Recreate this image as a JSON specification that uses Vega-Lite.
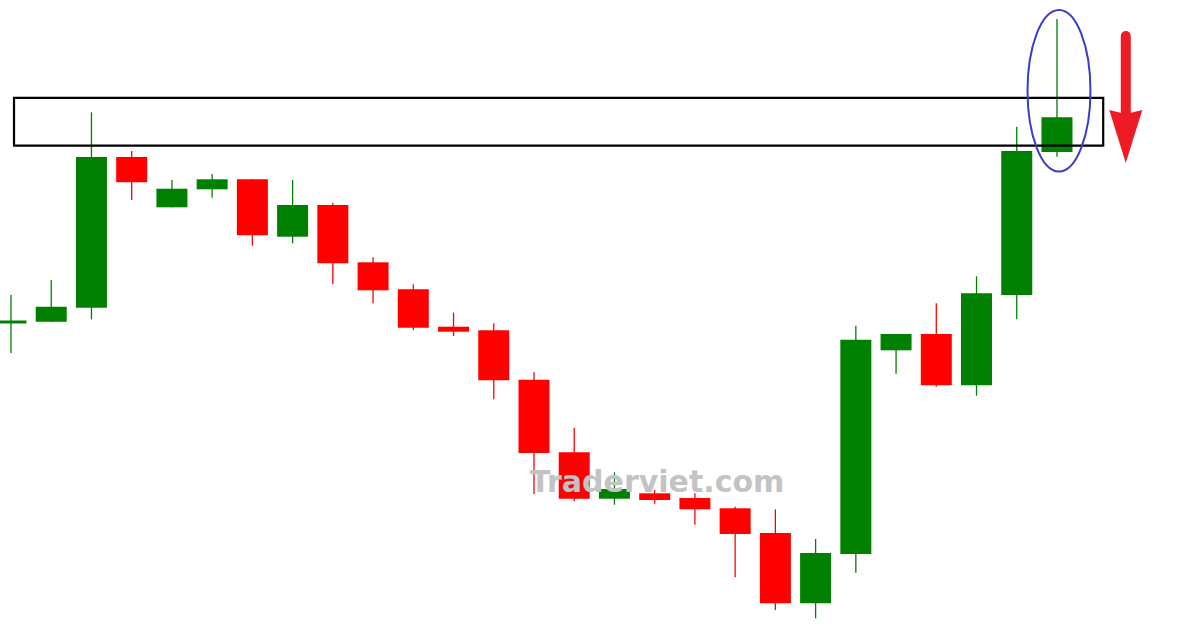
{
  "$schema": "https://vega.github.io/schema/vega-lite/v6.json",
  "width": 1200,
  "height": 628,
  "autosize": {"type": "none"},
  "padding": 0,
  "background": "white",
  "config": {"view": {"stroke": null}, "scale": {"continuousPadding": 0}},
  "datasets": {
    "candles": [
      {"i": 0, "open": 304.5, "close": 307.5, "high": 333, "low": 275},
      {"i": 1, "open": 306.3, "close": 321.3, "high": 348, "low": 306},
      {"i": 2, "open": 320.3, "close": 471, "high": 515.7, "low": 308.7},
      {"i": 3, "open": 471, "close": 445.7, "high": 477, "low": 428},
      {"i": 4, "open": 420.7, "close": 439.3, "high": 448, "low": 420.7},
      {"i": 5, "open": 438.7, "close": 448.7, "high": 454, "low": 430.3},
      {"i": 6, "open": 448.7, "close": 392.7, "high": 448.7, "low": 382.3},
      {"i": 7, "open": 391.3, "close": 423, "high": 448, "low": 384.7},
      {"i": 8, "open": 423, "close": 364.7, "high": 425.3, "low": 343.7},
      {"i": 9, "open": 365.7, "close": 337.7, "high": 370.7, "low": 324.7},
      {"i": 10, "open": 338.7, "close": 300.3, "high": 343.7, "low": 297.7},
      {"i": 11, "open": 301.3, "close": 296.3, "high": 315.3, "low": 292},
      {"i": 12, "open": 297.7, "close": 247.7, "high": 304.7, "low": 228.7},
      {"i": 13, "open": 248.3, "close": 175, "high": 255.7, "low": 134},
      {"i": 14, "open": 175.7, "close": 129.3, "high": 200.3, "low": 126.7},
      {"i": 15, "open": 129.3, "close": 139, "high": 155.7, "low": 123.3},
      {"i": 16, "open": 134.7, "close": 128, "high": 138, "low": 124.3},
      {"i": 17, "open": 130, "close": 118.7, "high": 134.7, "low": 103.3},
      {"i": 18, "open": 119.7, "close": 94, "high": 121.3, "low": 50.7},
      {"i": 19, "open": 95, "close": 24.7, "high": 118.7, "low": 18},
      {"i": 20, "open": 24.7, "close": 75, "high": 89, "low": 9.7},
      {"i": 21, "open": 74, "close": 288.3, "high": 302.3, "low": 55.3},
      {"i": 22, "open": 277.7, "close": 294, "high": 294, "low": 254.3},
      {"i": 23, "open": 294, "close": 242.7, "high": 324.7, "low": 241.3},
      {"i": 24, "open": 242.7, "close": 334.7, "high": 351.7, "low": 232.3},
      {"i": 25, "open": 333, "close": 477, "high": 501.3, "low": 308.7},
      {"i": 26, "open": 476, "close": 510.7, "high": 609, "low": 471.3}
    ],
    "zone": [{"x1": 0.075, "x2": 27.149, "p1": 482.3, "p2": 530.2}],
    "ellipse": [{"i": 26.05, "p": 537.3}],
    "shaft": [{"i": 27.71, "p1": 513, "p2": 592}],
    "head": [{"i": 27.71, "p": 491.5}],
    "watermark": [{"i": 16.06, "p": 136, "label": "Traderviet.com"}]
  },
  "layer": [
    {
      "data": {"name": "candles"},
      "mark": {"type": "rule", "strokeWidth": 1.3},
      "encoding": {
        "x": {"field": "i", "type": "quantitative", "scale": {"domain": [-0.2734, 29.555], "nice": false, "zero": false, "padding": 0}, "axis": null},
        "y": {"field": "low", "type": "quantitative", "scale": {"domain": [0, 628], "nice": false, "zero": false}, "axis": null},
        "y2": {"field": "high"},
        "color": {"condition": {"test": "datum.close >= datum.open", "value": "#008000"}, "value": "#ff0000"}
      }
    },
    {
      "data": {"name": "candles"},
      "mark": {"type": "bar", "size": 31},
      "encoding": {
        "x": {"field": "i", "type": "quantitative", "scale": {"domain": [-0.2734, 29.555], "nice": false, "zero": false, "padding": 0}, "axis": null},
        "y": {"field": "open", "type": "quantitative", "scale": {"domain": [0, 628], "nice": false, "zero": false}, "axis": null},
        "y2": {"field": "close"},
        "color": {"condition": {"test": "datum.close >= datum.open", "value": "#008000"}, "value": "#ff0000"}
      }
    },
    {
      "data": {"name": "zone"},
      "mark": {"type": "rect", "fill": null, "fillOpacity": 0, "stroke": "#000000", "strokeWidth": 2.2},
      "encoding": {
        "x": {"field": "x1", "type": "quantitative", "scale": {"domain": [-0.2734, 29.555], "nice": false, "zero": false, "padding": 0}, "axis": null},
        "x2": {"field": "x2"},
        "y": {"field": "p1", "type": "quantitative", "scale": {"domain": [0, 628], "nice": false, "zero": false}, "axis": null},
        "y2": {"field": "p2"}
      }
    },
    {
      "data": {"name": "ellipse"},
      "mark": {"type": "point", "filled": false, "stroke": "#3c3cc8", "strokeWidth": 2, "opacity": 1, "size": 26050,
        "shape": "M0.39,0 C0.39,0.5523 0.2154,1 0,1 C-0.2154,1 -0.39,0.5523 -0.39,0 C-0.39,-0.5523 -0.2154,-1 0,-1 C0.2154,-1 0.39,-0.5523 0.39,0 Z"},
      "encoding": {
        "x": {"field": "i", "type": "quantitative", "scale": {"domain": [-0.2734, 29.555], "nice": false, "zero": false, "padding": 0}, "axis": null},
        "y": {"field": "p", "type": "quantitative", "scale": {"domain": [0, 628], "nice": false, "zero": false}, "axis": null}
      }
    },
    {
      "data": {"name": "shaft"},
      "mark": {"type": "rule", "color": "#ed1c24", "strokeWidth": 10, "strokeCap": "round"},
      "encoding": {
        "x": {"field": "i", "type": "quantitative", "scale": {"domain": [-0.2734, 29.555], "nice": false, "zero": false, "padding": 0}, "axis": null},
        "y": {"field": "p1", "type": "quantitative", "scale": {"domain": [0, 628], "nice": false, "zero": false}, "axis": null},
        "y2": {"field": "p2"}
      }
    },
    {
      "data": {"name": "head"},
      "mark": {"type": "point", "filled": true, "fill": "#ed1c24", "opacity": 1, "strokeWidth": 0, "size": 2809,
        "shape": "M-0.623,-1 L0,-0.85 L0.623,-1 L0,1 Z"},
      "encoding": {
        "x": {"field": "i", "type": "quantitative", "scale": {"domain": [-0.2734, 29.555], "nice": false, "zero": false, "padding": 0}, "axis": null},
        "y": {"field": "p", "type": "quantitative", "scale": {"domain": [0, 628], "nice": false, "zero": false}, "axis": null}
      }
    },
    {
      "data": {"name": "watermark"},
      "mark": {"type": "text", "font": "DejaVu Sans", "fontWeight": "bold", "fontSize": 30, "color": "#c3c3c3", "align": "center", "baseline": "alphabetic"},
      "encoding": {
        "x": {"field": "i", "type": "quantitative", "scale": {"domain": [-0.2734, 29.555], "nice": false, "zero": false, "padding": 0}, "axis": null},
        "y": {"field": "p", "type": "quantitative", "scale": {"domain": [0, 628], "nice": false, "zero": false}, "axis": null},
        "text": {"field": "label"}
      }
    }
  ]
}
